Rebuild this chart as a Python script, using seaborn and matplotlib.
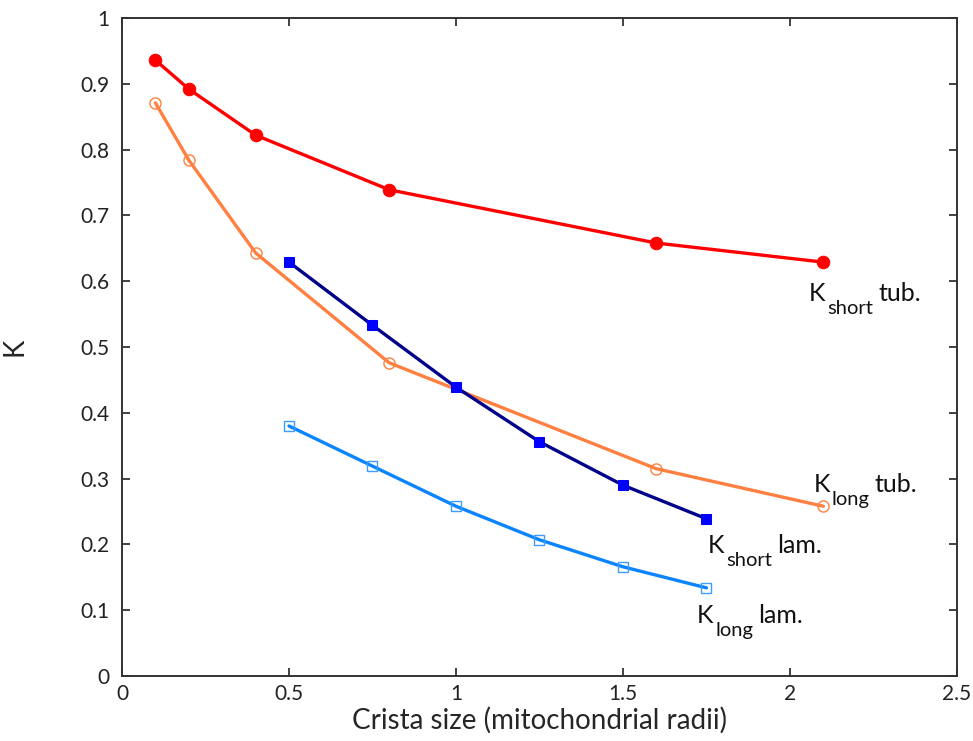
import matplotlib
matplotlib.use("Agg")
import matplotlib.pyplot as plt
from matplotlib.transforms import offset_copy
import seaborn as sns
import pandas as pd

# Data
x_tub = [0.1, 0.2, 0.4, 0.8, 1.6, 2.1]
k_short_tub = [0.936, 0.892, 0.822, 0.739, 0.658, 0.629]
k_long_tub = [0.871, 0.784, 0.643, 0.476, 0.315, 0.258]
x_lam = [0.5, 0.75, 1.0, 1.25, 1.5, 1.75]
k_short_lam = [0.629, 0.533, 0.439, 0.356, 0.290, 0.239]
k_long_lam = [0.380, 0.319, 0.258, 0.207, 0.166, 0.134]

x_ticks = [0, 0.5, 1, 1.5, 2, 2.5]
x_ticklabels = ["0", "0.5", "1", "1.5", "2", "2.5"]
y_ticks = [0, 0.1, 0.2, 0.3, 0.4, 0.5, 0.6, 0.7, 0.8, 0.9, 1.0]
y_ticklabels = ["0", "0.1", "0.2", "0.3", "0.4", "0.5", "0.6", "0.7", "0.8", "0.9", "1"]

series_labels = [("K", "short", "tub."), ("K", "long", "tub."),
                 ("K", "short", "lam."), ("K", "long", "lam.")]

sns.set_style("ticks")
plt.rcParams['font.family'] = ['Lato', 'DejaVu Sans']

fig = plt.figure(figsize=(9.73, 7.41), dpi=100)
ax = fig.add_axes([0.1254, 0.0877, 0.8581, 0.888])

lw = 2.4
sns.lineplot(x=x_tub, y=k_short_tub, ax=ax, color="#ff0000", lw=lw,
             marker="o", markersize=9, markerfacecolor="#ff0000",
             markeredgecolor="#ff0000", sort=False, estimator=None)
sns.lineplot(x=x_tub, y=k_long_tub, ax=ax, color="#ff8040", lw=lw,
             marker="o", markersize=8, markerfacecolor="none",
             markeredgecolor="#ff8040", markeredgewidth=1.0, sort=False, estimator=None)
sns.lineplot(x=x_lam, y=k_short_lam, ax=ax, color="#00008b", lw=lw,
             marker="s", markersize=7, markerfacecolor="#0000ff",
             markeredgecolor="#0000ff", sort=False, estimator=None)
sns.lineplot(x=x_lam, y=k_long_lam, ax=ax, color="#0a84ff", lw=lw,
             marker="s", markersize=6.5, markerfacecolor="none",
             markeredgecolor="#3c9cff", markeredgewidth=1.0, sort=False, estimator=None)

ax.set_xlim(0, 2.5)
ax.set_ylim(0, 1)
ax.set_xticks(x_ticks)
ax.set_xticklabels(x_ticklabels)
ax.set_yticks(y_ticks)
ax.set_yticklabels(y_ticklabels)
ax.tick_params(direction="in", length=6, width=1.2, labelsize=15, pad=9,
               top=True, right=True, colors="#222222")
ax.tick_params(axis="x", pad=6)
for s in ax.spines.values():
    s.set_visible(True)
    s.set_linewidth(1.4)
    s.set_color("#333333")
ax.set_xlabel("Crista size (mitochondrial radii)", fontsize=20, labelpad=2)
ax.set_ylabel("K", fontsize=20, labelpad=38, rotation=90)

fig.canvas.draw()
renderer = fig.canvas.get_renderer()

def sub_label(x, y, main, sub, rest, fs=18, sfs=14.5, drop=13):
    t1 = ax.text(x, y, main, fontsize=fs, va="baseline", ha="left", color="#111111")
    w1 = t1.get_window_extent(renderer).width
    t2 = ax.text(x, y, sub, fontsize=sfs, va="baseline", ha="left", color="#111111",
                 transform=offset_copy(ax.transData, fig, x=w1 + 2, y=-drop, units="dots"))
    w2 = t2.get_window_extent(renderer).width
    ax.text(x, y, rest, fontsize=fs, va="baseline", ha="left", color="#111111",
            transform=offset_copy(ax.transData, fig, x=w1 + 2 + w2 + 5, y=0, units="dots"))

label_pos = [(2.057, 0.570), (2.070, 0.280), (1.754, 0.187), (1.722, 0.080)]
for (m, s, r), (lx, ly) in zip(series_labels, label_pos):
    sub_label(lx, ly, m, s, r)

fig.savefig("out.png", dpi=100)
